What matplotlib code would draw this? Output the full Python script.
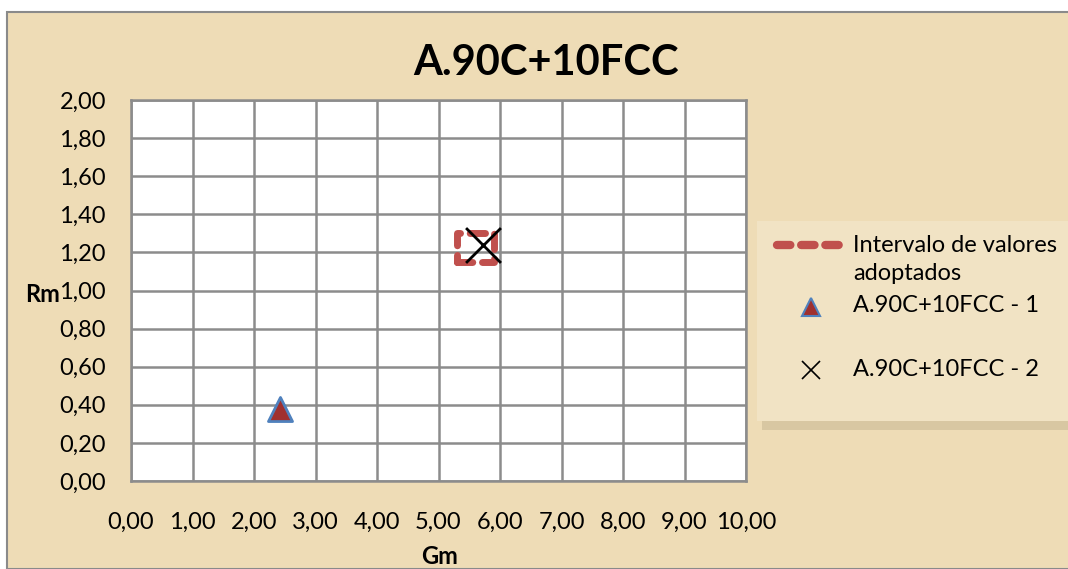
import matplotlib
matplotlib.use("Agg")
import matplotlib.pyplot as plt
from matplotlib.patches import Rectangle
from matplotlib.lines import Line2D

plt.rcParams['font.family'] = ['Lato', 'DejaVu Sans']

title = "A.90C+10FCC"
x_label = "Gm"
y_label = "Rm"

# Interval of adopted values (rectangle corners)
interval_x = [5.3, 5.9, 5.9, 5.3, 5.3]
interval_y = [1.15, 1.15, 1.30, 1.30, 1.15]
s1_x = [2.42]
s1_y = [0.38]
s2_x = [5.72]
s2_y = [1.24]
labels = ["Intervalo de valores\nadoptados", "A.90C+10FCC - 1", "A.90C+10FCC - 2"]

x_ticks = [0, 1, 2, 3, 4, 5, 6, 7, 8, 9, 10]
y_ticks = [0, 0.2, 0.4, 0.6, 0.8, 1.0, 1.2, 1.4, 1.6, 1.8, 2.0]

W, H = 1068, 569
def fx(px): return px / W
def fy(py): return 1 - py / H

bg = "#EEDCB6"
red = "#C0504D"
fig = plt.figure(figsize=(10.68, 5.69), dpi=100)
fig.patch.set_facecolor("white")
fig.patches.append(Rectangle((fx(7), 0), 1.2, 1 - 12 / H, transform=fig.transFigure,
                             facecolor=bg, edgecolor="#8a8a8a", linewidth=1.5, zorder=-10))

ax = fig.add_axes([fx(131), fy(481), 615 / W, 381 / H])
ax.set_facecolor("white")
ax.set_xlim(0, 10)
ax.set_ylim(0, 2)
ax.set_xticks(x_ticks)
ax.set_yticks(y_ticks)
fmt = lambda v: f"{v:.2f}".replace(".", ",")
ax.set_xticklabels([fmt(v) for v in x_ticks], fontsize=17)
ax.set_yticklabels([fmt(v) for v in y_ticks], fontsize=17)
ax.tick_params(axis="x", length=0, pad=22)
ax.tick_params(axis="y", length=0, pad=18)
ax.grid(True, color="#8c8c8c", linewidth=1.8)
ax.set_axisbelow(True)
for s in ax.spines.values():
    s.set_color("#8c8c8c")
    s.set_linewidth(1.8)

ax.plot(interval_x, interval_y, color=red, linestyle=(0, (2.2, 1.4)), linewidth=5,
        solid_capstyle="round", dash_capstyle="round", zorder=3)
ax.scatter(s1_x, s1_y, marker="^", s=300, facecolor="#A0302E", edgecolor="#4F81BD",
           linewidth=2, zorder=4)
ax.scatter(s2_x, s2_y, marker="x", s=630, color="black", linewidth=2, zorder=5)

fig.text(fx(546), fy(63), title, fontsize=30, fontweight="bold", ha="center", va="center")
fig.text(fx(43), fy(294), y_label, fontsize=17, fontweight="bold", ha="center", va="center")
fig.text(fx(440), fy(556), x_label, fontsize=17, fontweight="bold", ha="center", va="center")

# legend box with shadow
fig.patches.append(Rectangle((fx(762), fy(430)), 0.3, 205 / H, transform=fig.transFigure,
                             facecolor="#D8C7A2", edgecolor="none", zorder=-5))
fig.patches.append(Rectangle((fx(757), fy(421)), 0.3, 200 / H, transform=fig.transFigure,
                             facecolor="#F1E3C4", edgecolor="none", zorder=-4))

# legend entries
fig.lines.append(Line2D([fx(777), fx(848)], [fy(245), fy(245)], transform=fig.transFigure,
                        color=red, linestyle=(0, (1.6, 1.3)), linewidth=6,
                        dash_capstyle="round"))
fig.lines.append(Line2D([fx(811)], [fy(307)], transform=fig.transFigure, marker="^",
                        markersize=13, markerfacecolor="#A0302E", markeredgecolor="#4F81BD",
                        markeredgewidth=1.5, linestyle="none"))
fig.lines.append(Line2D([fx(811)], [fy(370)], transform=fig.transFigure, marker="x",
                        markersize=13, color="black", markeredgewidth=1.2, linestyle="none"))
fig.text(fx(853), fy(245), labels[0].split("\n")[0], fontsize=17, ha="left", va="center")
fig.text(fx(853), fy(273), labels[0].split("\n")[1], fontsize=17, ha="left", va="center")
fig.text(fx(853), fy(306), labels[1], fontsize=17, ha="left", va="center")
fig.text(fx(853), fy(370), labels[2], fontsize=17, ha="left", va="center")

fig.savefig("out.png", dpi=100)
